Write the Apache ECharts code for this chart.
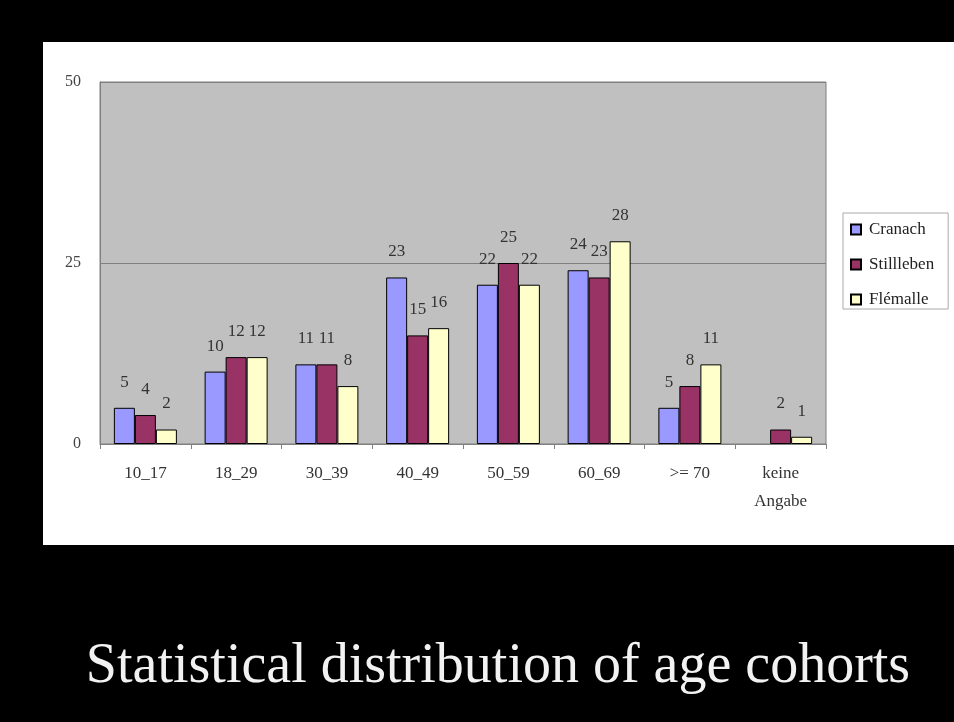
<!DOCTYPE html>
<html><head><meta charset="utf-8">
<style>html,body{margin:0;padding:0;background:#000;}#c{width:954px;height:722px;}</style>
<script src="https://cdn.jsdelivr.net/npm/echarts@6/dist/echarts.min.js"></script>
</head><body><div id="c"></div>
<script>
const categories = ['10_17','18_29','30_39','40_49','50_59','60_69','>= 70','keine\nAngabe'];
const cranach    = [5, 10, 11, 23, 22, 24, 5, null];
const stillleben = [4, 12, 11, 15, 25, 23, 8, 2];
const flemalle   = [2, 12, 8, 16, 22, 28, 11, 1];
const yTicks = [0, 25, 50];
const titleText = 'Statistical distribution of age cohorts';

const FONT = '"Liberation Serif", "DejaVu Serif", serif';
const chart = echarts.init(document.getElementById('c'), null, {renderer:'canvas'});
function mk(name, data, color){
  return {
    name, type:'bar', data, barWidth:21, barGap:'0%',
    itemStyle:{color, borderColor:'#000', borderWidth:1},
    label:{show:true, position:'top', distance:17, color:'#333', fontFamily:FONT, fontSize:17},
    emphasis:{disabled:true}
  };
}
chart.setOption({
  backgroundColor:'#000',
  animation:false,
  graphic:[
    {type:'rect', shape:{x:43,y:42,width:911,height:503}, style:{fill:'#fff'}, z:-10},
    {type:'text', x:498, y:639, style:{text:titleText, fill:'#f2f2f2', font:'56px "Liberation Serif", serif', textAlign:'center', textVerticalAlign:'top'}}
  ],
  grid:{left:100, right:128, top:82, bottom:278, show:true, backgroundColor:'#c0c0c0', borderColor:'#808080', borderWidth:1},
  legend:{
    orient:'vertical', left:843, top:213, padding:[8,14,1,7], itemGap:18,
    itemWidth:10, itemHeight:10, icon:'rect',
    borderColor:'#aaa', borderWidth:1, backgroundColor:'#fff',
    textStyle:{fontFamily:FONT, fontSize:17, color:'#222', padding:[0,0,0,3]},
    data:['Cranach','Stillleben','Flémalle']
  },
  xAxis:{
    type:'category', data:categories,
    axisLine:{lineStyle:{color:'#808080'}},
    axisTick:{show:true, length:5, lineStyle:{color:'#808080'}},
    axisLabel:{margin:16, color:'#333', fontFamily:FONT, fontSize:17, lineHeight:28, interval:0}
  },
  yAxis:{
    type:'value', min:0, max:50, interval:25,
    axisLine:{show:true, lineStyle:{color:'#808080'}},
    axisTick:{show:false},
    axisLabel:{margin:19, color:'#444', fontFamily:FONT, fontSize:16,
      formatter:v=>yTicks.includes(v)?String(v):''},
    splitLine:{lineStyle:{color:'#808080'}}
  },
  series:[mk('Cranach', cranach, '#9999ff'), mk('Stillleben', stillleben, '#993366'), mk('Flémalle', flemalle, '#ffffcc')]
});
</script></body></html>
